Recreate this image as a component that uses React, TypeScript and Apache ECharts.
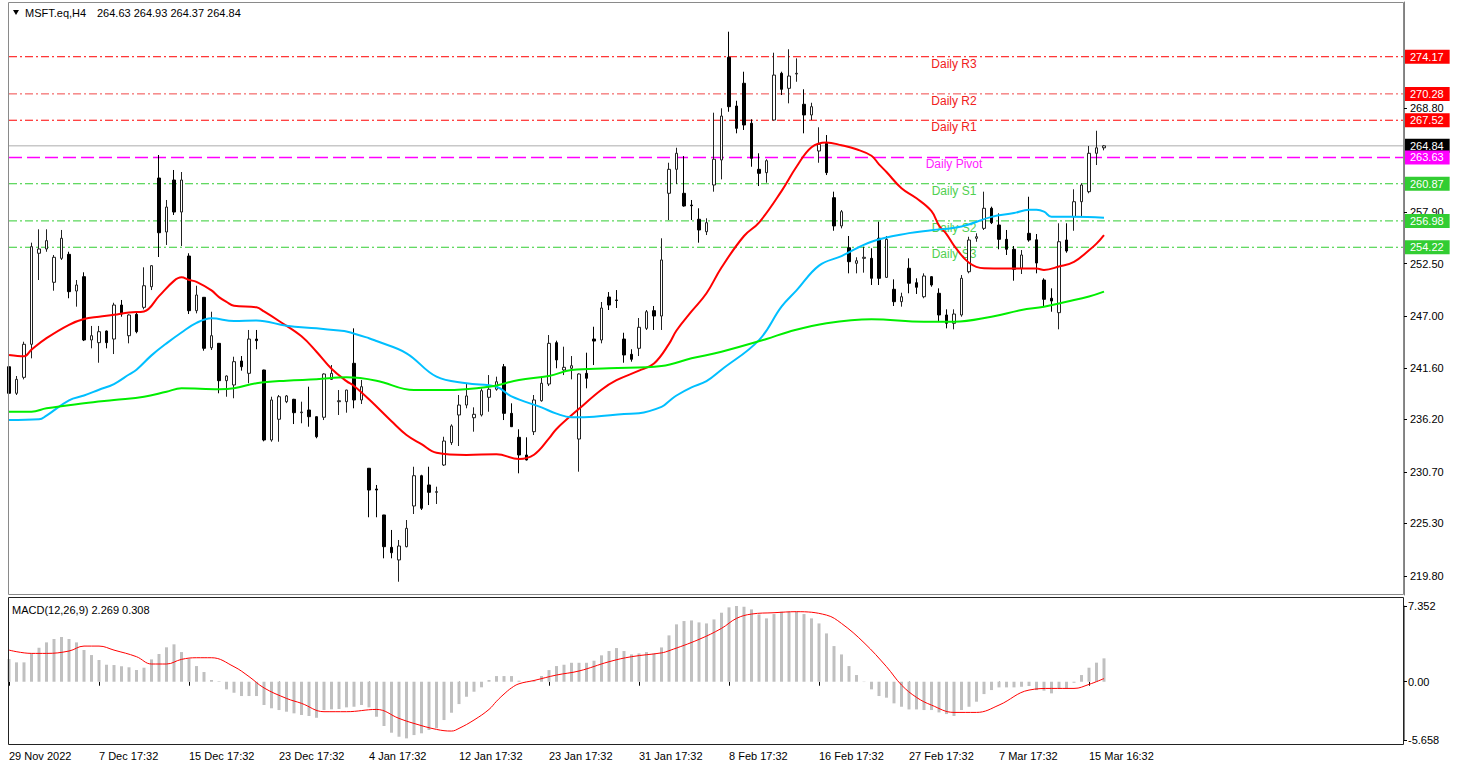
import React, { useEffect, useRef } from "react";
import * as echarts from "echarts";

const opens = [241.71,238.93,240.60,244.06,253.59,254.04,250.55,253.06,253.48,249.64,
251.14,244.51,244.23,245.45,244.61,248.17,244.96,247.20,247.93,250.09,
261.47,255.82,261.26,257.91,253.30,247.58,248.98,243.70,244.16,240.25,
239.80,242.31,241.02,244.61,241.37,234.04,236.21,238.05,238.30,236.90,
237.18,236.48,236.42,240.39,238.05,238.05,242.07,238.23,231.08,228.91,
226.19,222.80,221.48,222.87,227.13,230.30,229.33,228.56,231.42,233.76,
236.66,237.70,236.37,236.66,238.51,239.35,241.71,236.83,234.32,232.47,
234.91,238.15,239.90,244.23,241.37,241.55,234.14,241.02,244.61,244.51,
249.01,248.70,244.61,243.01,243.64,245.73,247.58,247.02,259.87,262.38,
259.87,258.64,257.15,255.85,260.74,263.36,274.11,269.01,271.39,267.20,
262.38,262.03,267.54,272.43,270.86,272.36,269.19,268.07,264.30,265.10,
259.41,256.45,254.17,252.54,253.06,253.06,255.16,251.07,249.82,248.52,
252.02,250.51,249.04,251.14,249.40,247.13,246.26,247.13,251.66,255.16,
256.20,258.30,256.55,255.05,254.01,252.02,255.68,255.00,250.79,248.88,
247.37,254.98,257.42,258.99,260.04,264.06,264.63];

const highs = [242.00,240.74,244.33,254.70,256.10,256.10,253.41,256.03,253.75,250.79,
251.60,245.98,245.98,245.50,248.41,248.70,247.20,247.37,252.12,252.35,
263.88,259.17,262.31,262.10,253.59,250.19,249.00,247.47,244.20,240.80,
242.76,242.83,245.56,245.56,241.40,238.57,238.75,238.75,238.35,238.05,
239.62,236.50,241.02,241.89,239.27,239.30,245.73,240.32,231.10,229.33,
226.20,224.62,223.57,225.66,231.24,230.40,231.24,229.15,234.38,235.68,
238.75,239.90,237.46,239.45,240.84,240.67,242.00,237.88,235.16,234.32,
238.75,240.67,245.03,244.44,243.81,242.83,241.02,243.18,245.90,248.49,
249.53,249.74,245.27,243.54,246.81,247.65,248.07,255.16,263.07,264.64,
263.77,259.17,258.30,257.25,268.31,268.77,276.79,269.56,272.60,267.62,
264.06,263.43,274.59,272.60,274.95,274.00,270.76,269.35,266.78,265.97,
260.04,258.12,255.40,253.17,254.28,254.11,256.90,255.40,250.86,249.46,
253.06,250.97,251.49,251.20,249.92,247.72,247.72,251.31,255.32,255.68,
260.04,258.47,257.77,256.03,254.35,253.93,259.51,255.61,250.97,249.92,
256.73,256.73,260.29,260.92,264.82,266.42,264.93];

const lows = [238.05,238.75,240.39,242.59,250.79,253.75,249.67,252.89,248.88,248.00,
244.40,243.64,242.13,243.64,243.04,246.95,244.16,245.21,247.72,249.74,
253.20,254.46,257.60,254.35,247.23,247.30,243.39,243.46,238.93,238.57,
238.41,241.30,239.98,243.54,233.90,233.86,233.86,237.90,235.71,235.79,
235.43,234.22,236.13,240.32,236.66,236.90,237.36,237.81,225.95,225.95,
221.65,221.65,219.20,222.80,226.29,226.71,227.23,227.34,231.32,233.52,
233.41,237.36,234.91,236.50,237.00,239.20,236.13,235.40,230.55,231.90,
234.56,238.05,239.69,241.55,240.84,240.39,230.72,239.45,241.89,244.16,
247.65,247.86,242.13,242.24,242.83,245.56,245.56,245.56,257.07,260.84,
258.47,257.07,254.70,255.50,260.04,261.33,268.41,266.15,266.50,262.65,
260.63,260.98,267.50,270.16,269.29,271.55,266.15,267.54,263.07,261.78,
255.95,256.20,251.49,251.49,251.56,250.27,250.27,251.00,248.07,248.00,
249.40,249.33,248.88,250.09,246.43,245.73,245.63,246.95,251.49,254.80,
256.03,256.65,254.01,253.41,250.72,251.42,254.80,251.49,248.00,247.47,
245.63,253.65,255.95,257.42,259.87,262.83,264.37];

const closes = [238.93,240.39,244.06,254.28,254.04,254.91,253.17,255.16,249.57,250.27,
244.51,244.96,245.38,244.23,248.17,247.23,247.13,245.38,250.19,252.29,
255.74,258.43,257.91,261.26,247.58,249.22,243.64,244.96,240.25,240.74,
242.24,241.71,244.61,244.44,234.04,238.23,238.57,238.65,236.90,236.97,
236.48,234.38,240.95,241.02,238.15,239.27,238.23,239.62,228.80,228.80,
222.87,222.24,222.94,224.79,230.30,226.89,228.56,228.63,233.93,235.51,
237.70,238.65,236.73,239.20,239.35,240.14,236.83,235.43,232.47,231.95,
238.23,239.98,244.16,242.42,241.65,241.82,240.95,240.50,244.40,247.86,
248.17,248.65,242.94,242.49,245.84,247.47,247.02,252.89,262.38,264.06,
258.54,258.57,256.03,256.79,263.43,267.96,268.94,266.67,267.02,263.53,
261.96,263.28,272.25,270.76,272.15,272.43,268.07,268.94,265.00,262.03,
256.45,257.94,252.71,252.81,253.17,250.97,250.97,255.05,248.52,249.04,
250.45,250.03,251.21,250.27,247.13,246.26,247.23,250.97,254.98,255.32,
258.30,256.79,255.05,254.01,251.91,253.41,254.98,252.57,248.77,248.59,
254.80,253.83,258.99,260.74,264.06,264.63,264.84];

const redMA = [[0,242.94],[2,242.8],[3,243.5],[5,244.7],[8,246.1],[10,246.7],[12,246.95],[14,247.15],[16,247.4],[18,247.5],
[20,249.1],[22,250.7],[23,251.07],[24,250.8],[25,250.6],[27,249.7],[28,249.0],[29,248.5],[30,248.1],[33,247.93],[34,247.5],
[36,246.5],[39,244.9],[41,243.28],[43,241.5],[45,240.2],[46,239.7],[48,238.3],[51,236.0],[53,234.56],[55,233.6],[57,232.7],
[61,232.47],[65,232.55],[68,232.05],[70,232.5],[72,234.2],[73,235.2],[76,237.3],[79,239.3],[81,240.3],[84,241.3],[86,242.05],
[88,244.1],[89,245.5],[91,247.5],[93,249.4],[95,252.1],[98,255.4],[100,256.8],[103,260.1],[105,262.65],[107,264.7],[109,265.2],
[111,264.9],[113,264.48],[115,263.8],[116,262.9],[117,262.1],[119,260.4],[121,259.35],[123,258.0],[124,256.5],[125,255.6],
[126,254.4],[128,252.6],[130,252.02],[133,252.0],[137,252.0],[138,251.85],[140,252.2],[142,252.7],[144,253.9],[145,254.6],[146,255.5]];

const blueMA = [[0,236.13],[4,236.2],[5,236.6],[8,238.2],[10,238.7],[12,239.3],[14,239.9],[16,240.9],[17,241.4],[19,242.9],
[21,244.16],[23,245.3],[25,246.3],[27,246.78],[30,246.5],[33,246.55],[37,246.0],[41,245.73],[44,245.5],[45,245.4],[48,244.7],
[49,244.4],[53,243.12],[57,240.67],[61,239.98],[65,239.62],[67,238.6],[71,237.45],[73,236.8],[75,236.42],[78,236.48],[82,236.76],
[84,236.83],[87,237.5],[88,238.1],[89,238.7],[91,239.55],[93,240.2],[95,241.4],[100,244.5],[103,248.0],[105,249.7],[108,252.3],
[111,253.3],[115,254.8],[120,255.7],[123,256.0],[127,256.4],[131,257.4],[134,257.8],[136,258.15],[137,258.15],[138,257.95],
[139,257.42],[142,257.42],[146,257.31]];

const greenMA = [[0,237.0],[3,237.0],[5,237.36],[10,237.88],[14,238.23],[18,238.57],[21,239.1],[23,239.45],[28,239.35],[30,239.45],
[33,239.98],[37,240.25],[41,240.39],[45,240.6],[49,240.25],[54,239.27],[58,239.27],[64,239.62],[68,240.32],[72,240.74],[75,241.37],
[80,241.55],[87,241.79],[91,242.59],[95,243.28],[101,244.61],[104,245.38],[109,246.26],[115,246.68],[122,246.43],[126,246.43],
[131,246.95],[135,247.65],[138,248.0],[141,248.52],[144,249.06],[146,249.57]];

const macdHist = [2.20,1.88,1.88,2.76,3.30,3.82,4.15,4.34,4.15,3.82,
3.08,2.59,2.11,1.65,1.62,1.50,1.40,1.14,1.36,2.17,
2.69,3.34,3.63,2.88,2.23,1.52,0.94,0.17,0.05,-0.74,
-1.07,-1.39,-1.39,-1.39,-2.26,-2.58,-2.75,-2.91,-3.07,-3.23,
-3.33,-3.50,-2.75,-2.68,-2.65,-2.49,-2.43,-2.26,-2.49,-3.40,
-4.30,-4.95,-5.34,-5.50,-5.18,-5.01,-4.69,-4.52,-3.72,-3.01,
-2.17,-1.46,-0.97,-0.54,0.17,0.55,0.55,0.55,0.10,0.02,
0.10,0.55,1.13,1.52,1.65,1.84,1.84,1.84,2.04,2.56,
2.98,3.27,2.98,2.65,2.75,2.88,2.75,3.33,4.50,5.57,
5.89,5.95,5.76,5.66,6.05,6.70,7.22,7.35,7.28,7.02,
6.54,6.15,6.57,6.80,6.80,6.80,6.57,6.15,5.66,4.69,
3.46,2.65,1.52,0.65,-0.03,-0.74,-1.39,-1.55,-2.10,-2.43,
-2.69,-2.69,-2.75,-2.75,-2.98,-3.14,-3.33,-2.75,-2.43,-1.94,
-1.20,-0.81,-0.55,-0.55,-0.55,-0.49,-0.42,-0.81,-0.87,-1.13,
-0.71,-0.65,-0.10,0.65,1.36,1.85,2.269];

const signalLine = [[0,3.07],[3,2.75],[5,2.75],[8,2.98],[10,3.46],[12,3.46],[14,3.07],[17,2.43],[19,1.72],[21,1.72],
[23,2.17],[25,2.33],[27,2.33],[30,1.46],[32,0.5],[34,-0.6],[37,-1.62],[39,-2.1],[42,-2.91],[45,-2.91],[49,-2.69],
[52,-3.56],[54,-4.05],[57,-4.63],[59,-4.79],[60,-4.53],[62,-3.72],[64,-2.69],[65,-1.9],[66,-1.2],[67,-0.6],[68,-0.2],
[70,0.12],[73,0.65],[76,1.04],[80,1.94],[83,2.43],[87,2.8],[88,3.01],[92,4.11],[95,5.18],[97,6.15],[99,6.57],
[102,6.7],[105,6.8],[109,6.47],[111,5.66],[114,3.79],[117,1.46],[119,-0.32],[121,-1.52],[123,-2.27],[126,-2.98],
[129,-2.98],[132,-2.27],[136,-0.81],[139,-0.65],[142,-0.65],[144,-0.26],[146,0.308]];

const xTickLabels = ["29 Nov 2022","7 Dec 17:32","15 Dec 17:32","23 Dec 17:32","4 Jan 17:32","12 Jan 17:32",
"23 Jan 17:32","31 Jan 17:32","8 Feb 17:32","16 Feb 17:32","27 Feb 17:32","7 Mar 17:32","15 Mar 16:32"];
const TICK_STEP = 12;
const SLOT_COUNT = 187;

const priceTicks = [219.8, 225.3, 230.7, 236.2, 241.6, 247.0, 252.5, 257.9, 268.8];
const macdTicks = [-5.658, 0, 7.352];

const levelNames = ["Daily R3", "Daily R2", "Daily R1", "Daily Pivot", "Daily S1", "Daily S2", "Daily S3"];
const levelValues = [274.17, 270.28, 267.52, 263.63, 260.87, 256.98, 254.22];
const levelLineColors = ["#ff0000", "#f04848", "#ff0000", "#ff00ff", "#32cd32", "#32cd32", "#32cd32"];
const levelTagColors = ["#ff0000", "#ff0000", "#ff0000", "#ff00ff", "#32cd32", "#32cd32", "#32cd32"];
const levelTextColors = ["#f02020", "#f02020", "#f02020", "#ff20ff", "#50d050", "#50d050", "#50d050"];
const LABEL_SLOT = 126;

const FONT = "Liberation Sans, Arial, sans-serif";

export default function App() {
  const ref = useRef<HTMLDivElement>(null);
  useEffect(() => {
    document.body.style.margin = "0";
    const chart = echarts.init(ref.current!, undefined, { renderer: "svg", width: 1472, height: 767 });
    const categories = Array.from({ length: SLOT_COUNT }, (_, i) => String(i));
    const candleData = opens.map((o, i) => [o, closes[i], lows[i], highs[i]]);
    const last = opens.length - 1;
    const currentPrice = closes[last];
    const tickShow = (i: number) => i % TICK_STEP === 0 && i / TICK_STEP < xTickLabels.length;
    const dashDot = [8, 3, 2, 3];

    const levelSeries = (v: number, color: string, type: any, bg: string, width = 1) => ({
      type: "line", xAxisIndex: 0, yAxisIndex: 0, data: [[0, v], [SLOT_COUNT - 1, v]],
      symbol: "none", silent: true, z: 1, clip: false, color,
      lineStyle: { color, type, width },
      endLabel: {
        show: true, formatter: v.toFixed(2), color: "#fff", backgroundColor: bg,
        padding: [1, 6, 0, 5], fontSize: 11, lineHeight: 13, distance: 1, fontFamily: FONT,
      },
    });

    const levelOrder = [0, 1, 2, -1, 4, 5, 6, 3];
    const levels = levelOrder.map((k) =>
      k < 0
        ? levelSeries(currentPrice, "#c8c8c8", "solid", "#000000", 1.5)
        : levelSeries(levelValues[k], levelLineColors[k], k === 3 ? [13, 5] : dashDot, levelTagColors[k], k === 3 ? 1.5 : 1)
    );

    const option: any = {
      animation: false,
      backgroundColor: "#ffffff",
      textStyle: { fontFamily: FONT },
      grid: [
        { left: 9, right: 68, top: 2, height: 593 },
        { left: 9, right: 68, top: 606, height: 134 },
      ],
      xAxis: [
        { type: "category", gridIndex: 0, data: categories, boundaryGap: false, show: false },
        {
          type: "category", gridIndex: 1, data: categories, boundaryGap: false, offset: 5,
          axisLine: { show: false },
          axisTick: { show: true, interval: (i: number) => tickShow(i), length: 4, lineStyle: { color: "#000" } },
          axisLabel: {
            interval: (i: number) => tickShow(i),
            formatter: (_v: string, i: number) => xTickLabels[i / TICK_STEP] ?? "",
            align: "left", margin: 5, fontSize: 11, color: "#000", fontFamily: FONT,
          },
          splitLine: { show: false },
        },
      ],
      yAxis: [
        {
          type: "value", gridIndex: 0, position: "right", min: 217.81, max: 279.9,
          splitLine: { show: false },
          axisLine: { show: true, lineStyle: { color: "#808080", width: 1 } },
          axisTick: { show: true, length: 3, customValues: priceTicks, lineStyle: { color: "#000" } },
          axisLabel: {
            customValues: priceTicks, formatter: (v: number) => v.toFixed(2), margin: 6,
            fontSize: 11, color: "#000", fontFamily: FONT,
          },
        },
        {
          type: "value", gridIndex: 1, position: "right", min: -5.658, max: 7.352,
          splitLine: { show: false },
          axisLine: { show: true, lineStyle: { color: "#808080", width: 1 } },
          axisTick: { show: true, length: 3, customValues: macdTicks, lineStyle: { color: "#000" } },
          axisLabel: {
            customValues: macdTicks, formatter: (v: number) => (v === 0 ? "0.00" : v.toFixed(3)), margin: 4,
            fontSize: 11, color: "#000", fontFamily: FONT,
          },
        },
      ],
      series: [
        ...levels,
        {
          name: "levelNames", type: "line", xAxisIndex: 0, yAxisIndex: 0, data: [], symbol: "none", silent: true, z: 1,
          lineStyle: { opacity: 0 },
          markPoint: {
            silent: true, z: 1,
            data: levelNames.map((n, k) => ({
              coord: [LABEL_SLOT, levelValues[k]], symbol: "circle", symbolSize: 0,
              label: { show: true, position: "bottom", distance: 1, formatter: n, color: levelTextColors[k], fontSize: 12, fontFamily: FONT },
            })),
          },
        },
        {
          name: "MSFT", type: "candlestick", xAxisIndex: 0, yAxisIndex: 0, data: candleData, barWidth: 3, z: 2,
          itemStyle: { color: "#ffffff", color0: "#000000", borderColor: "#222222", borderColor0: "#000000", borderWidth: 1 },
        },
        { name: "MA fast", type: "line", xAxisIndex: 0, yAxisIndex: 0, data: redMA, smooth: 0.4, symbol: "none", z: 3, lineStyle: { color: "#ff0000", width: 2 } },
        { name: "MA mid", type: "line", xAxisIndex: 0, yAxisIndex: 0, data: blueMA, smooth: 0.4, symbol: "none", z: 3, lineStyle: { color: "#00bfff", width: 2 } },
        { name: "MA slow", type: "line", xAxisIndex: 0, yAxisIndex: 0, data: greenMA, smooth: 0.4, symbol: "none", z: 3, lineStyle: { color: "#00ee00", width: 2 } },
        { name: "MACD", type: "bar", xAxisIndex: 1, yAxisIndex: 1, data: macdHist, barWidth: 3, itemStyle: { color: "#c0c0c0" }, z: 2 },
        { name: "Signal", type: "line", xAxisIndex: 1, yAxisIndex: 1, data: signalLine, smooth: 0.4, symbol: "none", z: 3, lineStyle: { color: "#ff0000", width: 1 } },
      ],
      graphic: [
        { type: "rect", shape: { x: 8.5, y: 2.5, width: 1395, height: 592 }, style: { fill: "none", stroke: "#8a8a8a", lineWidth: 1 }, z: 10, silent: true },
        { type: "rect", shape: { x: 8.5, y: 597.5, width: 1395, height: 147 }, style: { fill: "none", stroke: "#222", lineWidth: 1 }, z: 10, silent: true },
        { type: "polygon", shape: { points: [[13, 10], [19, 10], [16, 15]] }, style: { fill: "#000" }, z: 10, silent: true },
        { type: "text", x: 25, y: 13, style: { text: "MSFT.eq,H4", fill: "#000", font: `11px ${FONT}`, verticalAlign: "middle" }, z: 10, silent: true },
        {
          type: "text", x: 97, y: 13,
          style: { text: `${opens[last].toFixed(2)} ${highs[last].toFixed(2)} ${lows[last].toFixed(2)} ${closes[last].toFixed(2)}`, fill: "#000", font: `11px ${FONT}`, verticalAlign: "middle" },
          z: 10, silent: true,
        },
        {
          type: "text", x: 12, y: 610,
          style: { text: `MACD(12,26,9) ${macdHist[last].toFixed(3)} ${signalLine[signalLine.length - 1][1].toFixed(3)}`, fill: "#000", font: `11px ${FONT}`, verticalAlign: "middle" },
          z: 10, silent: true,
        },
      ],
    };
    chart.setOption(option);
    return () => chart.dispose();
  }, []);
  return <div ref={ref} style={{ position: "fixed", left: 0, top: 0, width: 1472, height: 767, background: "#fff" }} />;
}
